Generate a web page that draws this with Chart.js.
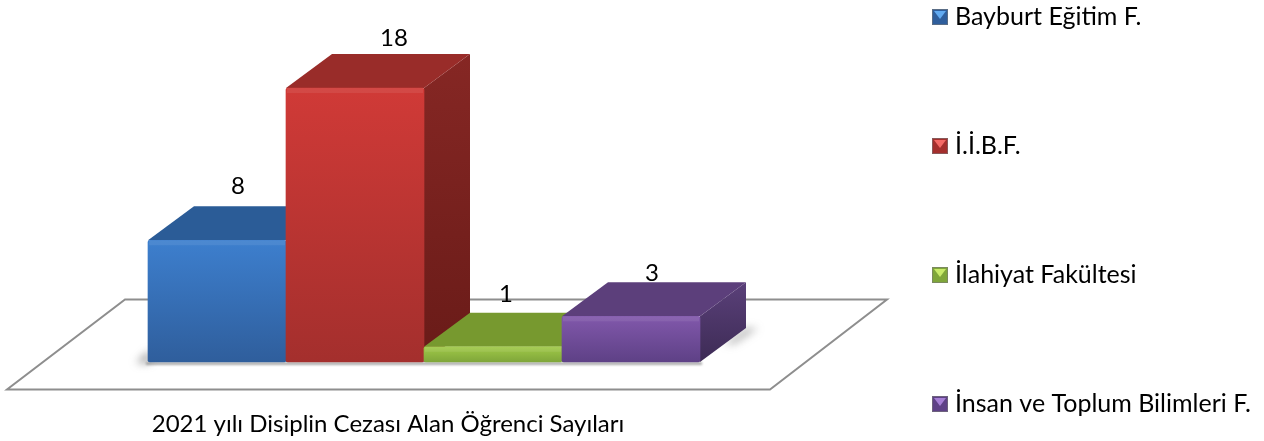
<!DOCTYPE html>
<html>
<head>
<meta charset="utf-8">
<title>2021 yılı Disiplin Cezası</title>
<script src="https://cdn.jsdelivr.net/npm/chart.js@4"></script>
<style>
	html, body { margin: 0; padding: 0; background: #fff; }
	#wrap { width: 1264px; height: 441px; position: relative; }
</style>
</head>
<body>
<div id="wrap"><canvas id="bar-chartcanvas"></canvas></div>
<script>
var categories = ["2021 yılı Disiplin Cezası Alan Öğrenci Sayıları"];
var seriesNames = ["Bayburt Eğitim F.", "İ.İ.B.F.", "İlahiyat Fakültesi", "İnsan ve Toplum Bilimleri F."];
var bayburt = [8];
var iibf = [18];
var ilahiyat = [1];
var insan = [3];

// colours of each box: front top, front bottom, top face, side top, side bottom, legend light
var blueBox = ["#3d7fce", "#2f5e9c", "#2b5c97", "#264f84", "#1f426f", "#62aaf0"];
var redBox = ["#d03a37", "#a42f2d", "#992c29", "#862724", "#691b18", "#f46a66"];
var greenBox = ["#a0c948", "#7fa63a", "#77992f", "#5f7c28", "#4e6820", "#c8ea6a"];
var purpleBox = ["#8158ab", "#5e4186", "#5c3f7b", "#5a4079", "#3d2b55", "#a67fd6"];
var boxes = [blueBox, redBox, greenBox, purpleBox];

// the value labels do not sit at the same place over each box
var labelNudge = [[21, -20], [39, -16], [13, -19], [21, -9]];

var depthX = 46, depthY = 34;
var font = "Lato, Carlito, sans-serif";

function frontGradient(c) {
	var box = boxes[c.datasetIndex];
	var chart = c.chart;
	if (!chart.chartArea) {
		return box[0];
	}
	var top = chart.scales.y.getPixelForValue(c.raw);
	var g = chart.ctx.createLinearGradient(0, top, 0, chart.chartArea.bottom);
	g.addColorStop(0, box[0]);
	g.addColorStop(1, box[1]);
	return g;
}

function poly(ctx, pts) {
	ctx.beginPath();
	ctx.moveTo(pts[0][0], pts[0][1]);
	for (var i = 1; i < pts.length; i++) {
		ctx.lineTo(pts[i][0], pts[i][1]);
	}
	ctx.closePath();
}

var box3d = {
	id: "box3d",
	beforeDatasetsDraw: function(chart) {
		var ctx = chart.ctx, a = chart.chartArea;

		// floor plate
		ctx.save();
		ctx.strokeStyle = "#8e8e8e";
		ctx.lineWidth = 2;
		ctx.lineJoin = "miter";
		poly(ctx, [[a.left - 23, a.bottom - 62.5], [a.right + 187, a.bottom - 62.5], [a.right + 70, a.bottom + 27.5], [a.left - 141, a.bottom + 27.5]]);
		ctx.stroke();

		// soft shadow on the floor
		ctx.filter = "blur(4px)";
		ctx.fillStyle = "rgba(90,90,90,0.6)";
		poly(ctx, [[a.left - 12, a.bottom + 1], [a.left + 2, a.bottom - 12], [a.left + 2, a.bottom + 1]]);
		ctx.fill();
		ctx.fillStyle = "rgba(90,90,90,0.45)";
		poly(ctx, [[a.right + 24, a.bottom - 18], [a.right + depthX, a.bottom - depthY], [a.right + depthX + 12, a.bottom - depthY], [a.right + 34, a.bottom - 18]]);
		ctx.fill();
		ctx.filter = "blur(1px)";
		ctx.fillStyle = "rgba(120,120,120,0.6)";
		ctx.fillRect(a.left - 2, a.bottom, a.right - a.left + 4, 3);
		ctx.filter = "none";
		ctx.restore();
	},
	beforeDatasetDraw: function() {
		// boxes are painted left to right below, the library goes the other way
		return false;
	},
	afterDatasetsDraw: function(chart) {
		var ctx = chart.ctx, a = chart.chartArea;
		chart.data.datasets.forEach(function(ds, i) {
			var bar = chart.getDatasetMeta(i).data[0];
			var box = boxes[i];
			var l = bar.x - bar.width / 2, r = bar.x + bar.width / 2;
			var t = bar.y, b = a.bottom;

			ctx.save();
			var side = ctx.createLinearGradient(0, t - depthY, 0, b);
			side.addColorStop(0, box[3]);
			side.addColorStop(1, box[4]);
			ctx.fillStyle = side;
			poly(ctx, [[r, t], [r + depthX, t - depthY], [r + depthX, b - depthY], [r, b]]);
			ctx.fill();

			ctx.fillStyle = box[2];
			poly(ctx, [[l, t], [l + depthX, t - depthY], [r + depthX, t - depthY], [r, t]]);
			ctx.fill();
			ctx.restore();

			bar.draw(ctx);

			// lighter rim along the top of the front
			ctx.save();
			ctx.fillStyle = "rgba(255,255,255,0.08)";
			ctx.fillRect(l + 1, t, r - l - 2, 5);
			ctx.restore();
		});

		// value labels
		ctx.save();
		ctx.font = "24px " + font;
		ctx.fillStyle = "#000";
		ctx.textAlign = "center";
		ctx.textBaseline = "middle";
		chart.data.datasets.forEach(function(ds, i) {
			var bar = chart.getDatasetMeta(i).data[0];
			ctx.fillText(ds.data[0], bar.x + labelNudge[i][0], bar.y - depthY + labelNudge[i][1]);
		});
		ctx.restore();
	},
	afterDraw: function(chart) {
		// legend: the library's own one cannot spread four rows over the full height
		var ctx = chart.ctx;
		var x = 932, y = 17, step = 129, size = 16;
		ctx.save();
		ctx.font = "25px " + font;
		ctx.textBaseline = "middle";
		chart.data.datasets.forEach(function(ds, i) {
			var box = boxes[i];
			var cy = y + i * step;
			var top = cy - size / 2;
			ctx.fillStyle = box[1];
			ctx.fillRect(x, top, size, size);
			ctx.fillStyle = box[5];
			poly(ctx, [[x + 2, top + 2], [x + size - 2, top + 2], [x + size / 2, top + size / 2 + 2]]);
			ctx.fill();
			ctx.strokeStyle = "rgba(120,120,120,0.6)";
			ctx.lineWidth = 1;
			ctx.strokeRect(x + 0.5, top + 0.5, size - 1, size - 1);
			ctx.fillStyle = "#000";
			ctx.fillText(ds.label, x + 23, cy);
		});
		ctx.restore();
	}
};

var ctx = document.getElementById("bar-chartcanvas");

var data = {
	labels: categories,
	datasets: [
		{ label: seriesNames[0], data: bayburt, backgroundColor: frontGradient },
		{ label: seriesNames[1], data: iibf, backgroundColor: frontGradient },
		{ label: seriesNames[2], data: ilahiyat, backgroundColor: frontGradient },
		{ label: seriesNames[3], data: insan, backgroundColor: frontGradient }
	]
};

var options = {
	responsive: false,
	animation: false,
	layout: {
		padding: { left: 148, right: 564, top: 88, bottom: 0 }
	},
	datasets: {
		bar: {
			barPercentage: 1,
			categoryPercentage: 1,
			borderRadius: 2,
			borderSkipped: false
		}
	},
	plugins: {
		legend: { display: false },
		title: { display: false },
		tooltip: { enabled: false },
		colors: { enabled: false }
	},
	scales: {
		x: {
			grid: { display: false },
			border: { display: false },
			afterFit: function(scale) { scale.height = 79; },
			ticks: {
				color: "#000",
				font: { family: font, size: 24 },
				padding: 40,
				labelOffset: -36,
				maxRotation: 0,
				autoSkip: false
			}
		},
		y: {
			display: false,
			min: 0,
			max: 18
		}
	}
};

ctx.width = 1264;
ctx.height = 441;

var chart = new Chart(ctx, {
	type: "bar",
	data: data,
	options: options,
	plugins: [box3d]
});
</script>
</body>
</html>
